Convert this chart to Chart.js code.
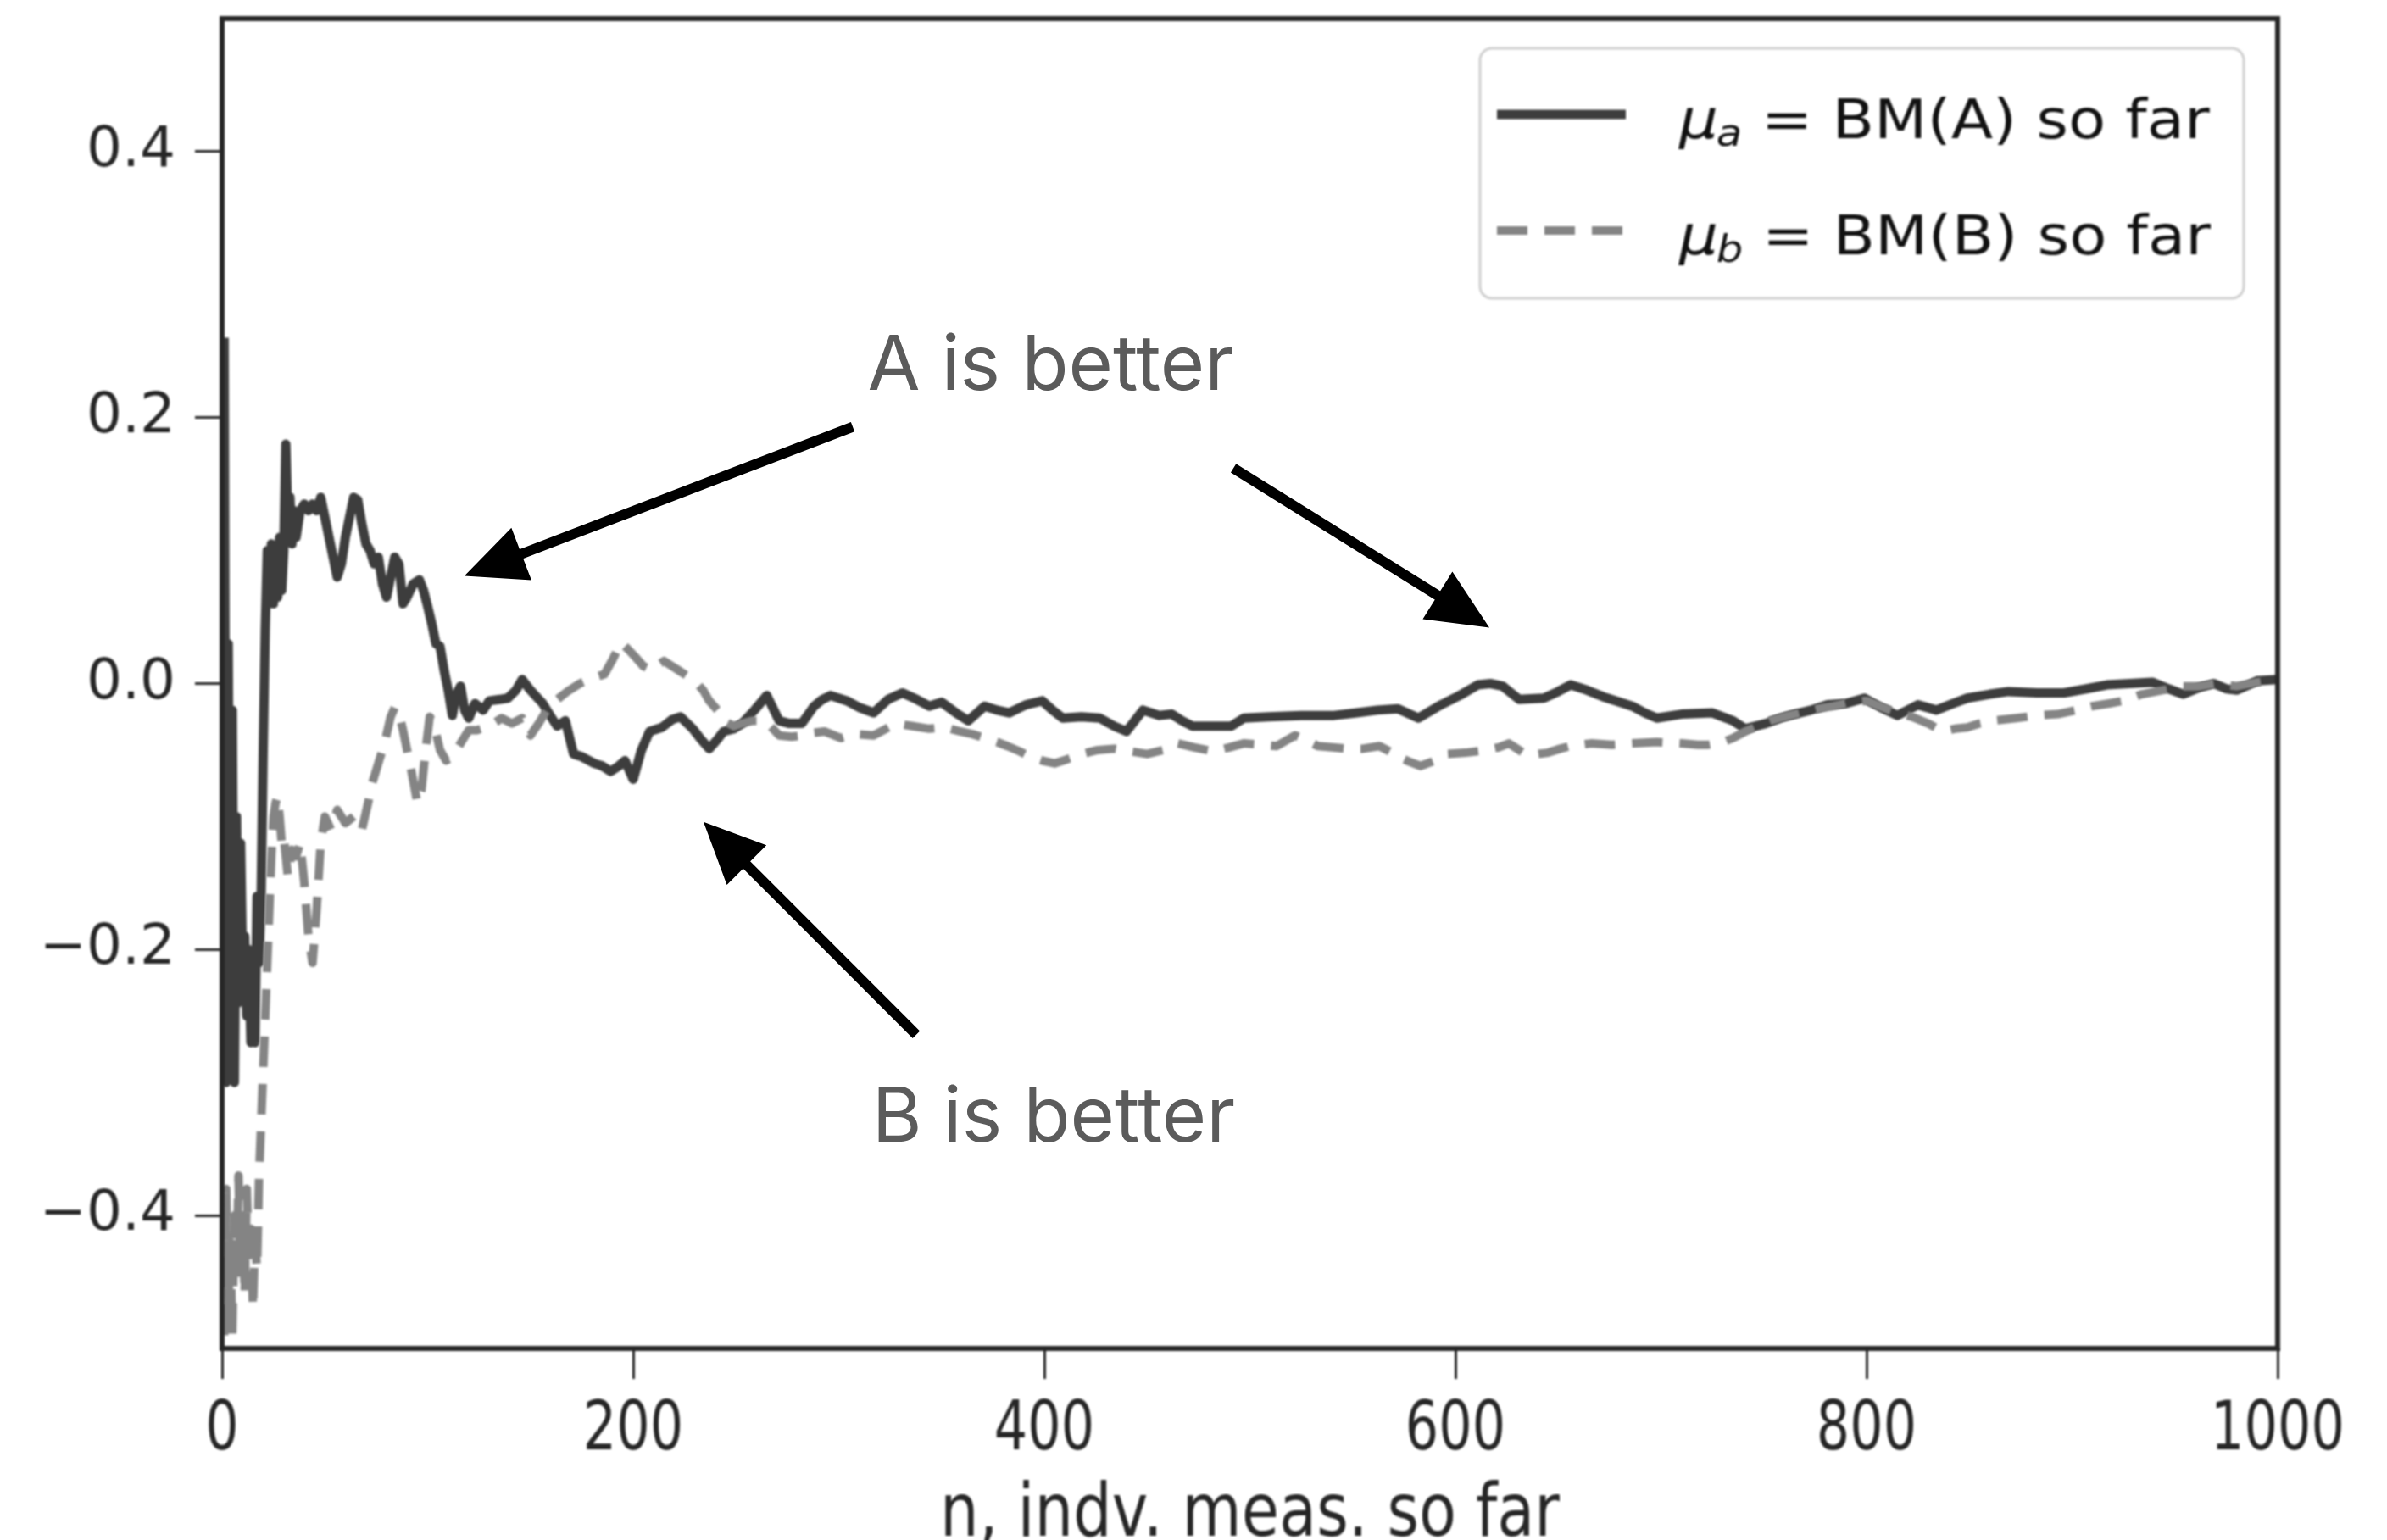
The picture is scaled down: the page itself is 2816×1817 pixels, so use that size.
<!DOCTYPE html>
<html>
<head>
<meta charset="utf-8">
<script src="https://cdn.jsdelivr.net/npm/chart.js@4.4.0/dist/chart.umd.min.js"></script>
<style>
  html, body { margin: 0; padding: 0; background: #fff; }
  canvas { display: block; }
</style>
</head>
<body>
<canvas id="chart" width="2816" height="1817"></canvas>
<script>
// running mean of A
const nA = [1,2,3,4,5,6,7,8,9,10, 11,12,13,14,15,16,17,18,19,20, 21,22,23,24,25,26,27,28,29,30, 31,32,33,34,35,36,
  38,40,42,44,46,48,50,52,54,56,58,60,62,64,66,68,70,72,74,76,78,80,82,84,86,88,90,
  93,96,98,100,102,104,106,108,110,112,114,116,118,120,
  123,127,130,135,139,143,146,150,153,156,160,163,167,171,175,181,185,189,193,196,200,
  204,208,214,219,223,229,233,237,241,244,249,253,259,265,271,276,282,288,292,296,304,
  310,317,324,331,338,344,350,357,363,371,377,383,391,399,
  404,409,418,427,434,440,448,456,462,467,472,482,491,497,
  509,525,541,552,562,572,582,593,602,611,617,623,631,643,650,656,664,672,680,686,692,698,
  710,725,735,741,751,758,765,773,781,790,799,
  807,815,825,834,842,849,860,869,883,896,
  907,917,928,939,947,954,962,969,975,980,986,990,1000];
const muA = [0.26,-0.30,0.03,-0.29,-0.02,-0.30,-0.10,-0.24,-0.12,-0.22, -0.19,-0.25,-0.20,-0.27,-0.21,-0.27,-0.16,-0.21,-0.16,-0.05,
  0.04,0.10,0.06,0.105,0.06,0.10,0.065,0.11,0.07,0.10, 0.18,0.12,0.14,0.105,0.13,0.11,
  0.13,0.135,0.13,0.135,0.13,0.14,0.125,0.11,0.095,0.08,0.09,0.11,0.125,0.14,0.138,0.12,0.105,0.10,0.09,0.095,0.075,0.065,0.08,0.095,0.09,0.06,0.065,
  0.075,0.078,0.07,0.058,0.045,0.03,0.028,0.01,-0.005,-0.024,-0.008,-0.002,-0.02,-0.026,
  -0.015,-0.02,-0.013,-0.012,-0.011,-0.005,0.003,-0.005,-0.01,-0.015,-0.025,-0.032,-0.028,-0.053,-0.055,-0.06,-0.062,-0.066,-0.062,-0.058,-0.072,
  -0.05,-0.036,-0.033,-0.027,-0.025,-0.034,-0.042,-0.049,-0.042,-0.036,-0.034,-0.03,-0.02,-0.009,-0.028,-0.03,-0.03,-0.017,-0.012,-0.009,-0.013,
  -0.018,-0.022,-0.012,-0.007,-0.012,-0.017,-0.014,-0.022,-0.028,-0.017,-0.02,-0.022,-0.016,-0.013,
  -0.02,-0.026,-0.025,-0.026,-0.032,-0.036,-0.02,-0.024,-0.023,-0.028,-0.032,-0.032,-0.032,-0.026,
  -0.025,-0.024,-0.024,-0.022,-0.02,-0.019,-0.026,-0.016,-0.009,-0.001,0.0,-0.002,-0.012,-0.011,-0.006,-0.001,-0.005,-0.01,-0.014,-0.017,-0.022,-0.026,
  -0.023,-0.022,-0.028,-0.034,-0.03,-0.026,-0.023,-0.02,-0.016,-0.015,-0.011,
  -0.018,-0.024,-0.016,-0.02,-0.015,-0.011,-0.008,-0.006,-0.007,-0.007,
  -0.004,-0.001,0.0,0.001,-0.004,-0.008,-0.003,0.0,-0.004,-0.005,-0.001,0.002,0.003];

// running mean of B
const nB = [1,2,3,4,5,6,7,8,9,10,
  11,12,13,14,15,16,17,18,19,20,
  21,22,23,24,25,26,27,28,29,30,
  31,32,34,36,38,40,42,44,46,48,
  50,53,56,60,64,68,71,73,76,79,
  82,84,86,88,90,92,95,97,99,101,
  103,106,109,112,116,120,124,128,132,136,
  141,146,150,154,158,163,168,174,180,186,
  190,194,198,201,205,209,212,215,219,222,
  226,230,234,237,241,244,249,253,258,264,
  268,271,277,283,288,293,301,308,317,323,
  328,336,344,352,359,365,371,377,382,388,
  393,399,405,411,418,426,434,442,450,458,
  465,473,482,490,497,505,513,522,528,533,
  540,547,555,563,568,572,578,583,590,596,
  605,615,621,626,631,634,640,645,651,656,
  666,676,686,698,710,718,723,730,735,741,
  747,753,760,768,776,784,792,800,808,815,
  822,830,837,843,849,855,861,873,883,893,
  902,910,918,925,934,944,954,962,970,980,
  990,1000];
const muB = [-0.49,-0.38,-0.47,-0.42,-0.49,-0.40,-0.45,-0.37,-0.44,-0.40,
  -0.46,-0.38,-0.43,-0.41,-0.47,-0.42,-0.44,-0.37,-0.33,-0.29,
  -0.25,-0.21,-0.17,-0.13,-0.10,-0.09,-0.085,-0.10,-0.12,-0.115,
  -0.13,-0.145,-0.125,-0.13,-0.12,-0.15,-0.19,-0.21,-0.17,-0.12,
  -0.10,-0.11,-0.095,-0.105,-0.10,-0.11,-0.09,-0.075,-0.06,-0.045,
  -0.025,-0.018,-0.022,-0.035,-0.05,-0.065,-0.09,-0.08,-0.05,-0.025,
  -0.03,-0.05,-0.058,-0.055,-0.045,-0.035,-0.035,-0.033,-0.03,-0.026,
  -0.03,-0.026,-0.039,-0.03,-0.02,-0.012,-0.006,0.0,0.004,0.007,
  0.018,0.031,0.025,0.02,0.013,0.01,0.014,0.017,0.013,0.01,
  0.006,0.002,-0.005,-0.013,-0.02,-0.028,-0.032,-0.03,-0.028,-0.028,
  -0.034,-0.039,-0.04,-0.039,-0.037,-0.036,-0.041,-0.038,-0.039,-0.034,
  -0.03,-0.032,-0.034,-0.033,-0.036,-0.038,-0.041,-0.044,-0.047,-0.051,
  -0.055,-0.058,-0.06,-0.057,-0.053,-0.05,-0.049,-0.051,-0.053,-0.05,
  -0.045,-0.048,-0.051,-0.048,-0.045,-0.046,-0.047,-0.039,-0.043,-0.047,
  -0.048,-0.049,-0.049,-0.047,-0.051,-0.055,-0.059,-0.062,-0.058,-0.053,
  -0.052,-0.05,-0.048,-0.045,-0.05,-0.053,-0.053,-0.052,-0.049,-0.047,
  -0.045,-0.046,-0.045,-0.044,-0.045,-0.046,-0.046,-0.044,-0.041,-0.036,
  -0.032,-0.028,-0.025,-0.022,-0.019,-0.017,-0.014,-0.013,-0.018,-0.022,
  -0.025,-0.03,-0.036,-0.034,-0.033,-0.03,-0.028,-0.026,-0.024,-0.023,
  -0.02,-0.017,-0.015,-0.013,-0.008,-0.005,-0.002,-0.002,0.0,-0.002,
  0.001,0.003];

const xTicks = [0, 200, 400, 600, 800, 1000];
const yTicks = [-0.4, -0.2, 0.0, 0.2, 0.4];
const xTitle = 'n, indv. meas. so far';
const seriesSubs = ['a', 'b'];
const seriesNames = ['BM(A) so far', 'BM(B) so far'];
const noteA = 'A is better';
const noteB = 'B is better';

const TXT = '#262626';
const SOFT = 'blur(1.3px)';   // the source picture is an upscaled, soft matplotlib render

function stretchedText(ctx, text, x, y, font, sx, sy, align, base) {
  ctx.save();
  ctx.translate(x, y);
  ctx.scale(sx, sy);
  ctx.font = font;
  ctx.textAlign = align;
  ctx.textBaseline = base;
  ctx.fillText(text, 0, 0);
  ctx.restore();
}

function fmtY(v) {
  if (v === 0) return '0.0';
  return (v < 0 ? '\u2212' : '') + Math.abs(v).toFixed(1);
}

function arrow(ctx, x1, y1, x2, y2) {
  const ang = Math.atan2(y2 - y1, x2 - x1);
  const hl = 72, hw = 33;
  const c = Math.cos(ang), s = Math.sin(ang);
  const bx = x2 - hl * c, by = y2 - hl * s;
  ctx.save();
  ctx.strokeStyle = '#000';
  ctx.fillStyle = '#000';
  ctx.lineWidth = 12;
  ctx.beginPath();
  ctx.moveTo(x1, y1);
  ctx.lineTo(bx + 6 * c, by + 6 * s);
  ctx.stroke();
  ctx.beginPath();
  ctx.moveTo(x2, y2);
  ctx.lineTo(bx - hw * s, by + hw * c);
  ctx.lineTo(bx + hw * s, by - hw * c);
  ctx.closePath();
  ctx.fill();
  ctx.restore();
}

const overlay = {
  id: 'overlay',
  beforeDraw(chart) {
    chart.ctx.filter = SOFT;
  },
  afterDatasetsDraw(chart) {
    const {ctx, chartArea: a} = chart;
    const xs = chart.scales.x, ys = chart.scales.y;
    ctx.filter = SOFT;

    // axes frame
    ctx.save();
    ctx.strokeStyle = '#262626';
    ctx.lineWidth = 6;
    ctx.strokeRect(a.left, a.top, a.right - a.left, a.bottom - a.top);
    ctx.restore();

    // tick labels + axis title
    ctx.fillStyle = TXT;
    yTicks.forEach(v => stretchedText(ctx, fmtY(v), 207, ys.getPixelForValue(v), '66px "DejaVu Sans"', 1, 1.0, 'right', 'middle'));
    xTicks.forEach(v => stretchedText(ctx, String(v), xs.getPixelForValue(v), 1710, '62px "DejaVu Sans"', 1, 1.3, 'center', 'alphabetic'));
    stretchedText(ctx, xTitle, (a.left + a.right) / 2, 1812, '72px "DejaVu Sans"', 1, 1.22, 'center', 'alphabetic');

    // legend
    ctx.save();
    ctx.beginPath();
    ctx.roundRect(1746, 57, 901, 295, 14);
    ctx.fillStyle = 'rgba(255,255,255,0.8)';
    ctx.fill();
    ctx.strokeStyle = '#d0d0d0';
    ctx.lineWidth = 3;
    ctx.stroke();
    ctx.restore();
    const rows = [135, 272];
    chart.data.datasets.forEach((ds, i) => {
      const yy = rows[i];
      ctx.save();
      ctx.strokeStyle = ds.borderColor;
      ctx.lineWidth = ds.borderWidth;
      ctx.setLineDash(ds.borderDash || []);
      ctx.beginPath();
      ctx.moveTo(1766, yy);
      ctx.lineTo(1918, yy);
      ctx.stroke();
      ctx.restore();

      ctx.save();
      ctx.translate(1981, yy + 28);
      ctx.scale(1.13, 1);
      ctx.fillStyle = '#111';
      ctx.textBaseline = 'alphabetic';
      ctx.textAlign = 'left';
      ctx.font = 'italic 64px "DejaVu Sans"';
      ctx.fillText('\u03bc', 0, 0);
      let w = ctx.measureText('\u03bc').width;
      ctx.font = 'italic 44px "DejaVu Sans"';
      ctx.fillText(seriesSubs[i], w - 2, 9);
      w += ctx.measureText(seriesSubs[i]).width + 18;
      ctx.font = '64px "DejaVu Sans"';
      ctx.fillText('= ' + seriesNames[i], w, 0);
      ctx.restore();
    });

    // annotations were added on top, crisp
    ctx.filter = 'none';
    const px = (n, v) => [xs.getPixelForValue(n), ys.getPixelForValue(v)];
    const arrows = [[306.8, 0.193, 117.9, 0.081], [492, 0.162, 616.5, 0.042], [337.7, -0.264, 234.2, -0.104]];
    arrows.forEach(r => {
      const [x1, y1] = px(r[0], r[1]);
      const [x2, y2] = px(r[2], r[3]);
      arrow(ctx, x1, y1, x2, y2);
    });
    ctx.save();
    ctx.fillStyle = '#5b5b5b';
    ctx.font = '90px Inter';
    ctx.textAlign = 'center';
    ctx.textBaseline = 'middle';
    let [tx, ty] = px(403, 0.238);
    ctx.fillText(noteA, tx, ty);
    [tx, ty] = px(404.5, -0.327);
    ctx.fillText(noteB, tx, ty);
    ctx.restore();
  }
};

new Chart(document.getElementById('chart'), {
  type: 'line',
  data: {
    datasets: [
      {
        label: 'A',
        data: nA.map((n, i) => ({x: n, y: muA[i]})),
        borderColor: '#3d3d3d',
        borderWidth: 11,
        pointRadius: 0,
        tension: 0,
        fill: false,
        borderJoinStyle: 'round',
        order: 2
      },
      {
        label: 'B',
        data: nB.map((n, i) => ({x: n, y: muB[i]})),
        borderColor: '#848484',
        borderWidth: 10,
        borderDash: [36, 20],
        pointRadius: 0,
        tension: 0,
        fill: false,
        borderJoinStyle: 'round',
        order: 1
      }
    ]
  },
  options: {
    responsive: false,
    animation: false,
    events: [],
    layout: {padding: {top: 22, right: 129, left: 0, bottom: 0}},
    plugins: {legend: {display: false}, tooltip: {enabled: false}},
    scales: {
      x: {
        type: 'linear', min: 0, max: 1000,
        afterBuildTicks: s => { s.ticks = xTicks.map(v => ({value: v})); },
        afterFit: s => { s.height = 226; },
        ticks: {color: 'rgba(0,0,0,0)', autoSkip: false},
        grid: {drawOnChartArea: false, drawTicks: true, tickLength: 36, tickWidth: 3, tickColor: '#2a2a2a'},
        border: {display: false}
      },
      y: {
        type: 'linear', min: -0.5, max: 0.5,
        afterBuildTicks: s => { s.ticks = yTicks.map(v => ({value: v})); },
        afterFit: s => { s.width = 262; },
        ticks: {color: 'rgba(0,0,0,0)', autoSkip: false},
        grid: {drawOnChartArea: false, drawTicks: true, tickLength: 32, tickWidth: 3, tickColor: '#2a2a2a'},
        border: {display: false}
      }
    }
  },
  plugins: [overlay]
});
</script>
</body>
</html>
